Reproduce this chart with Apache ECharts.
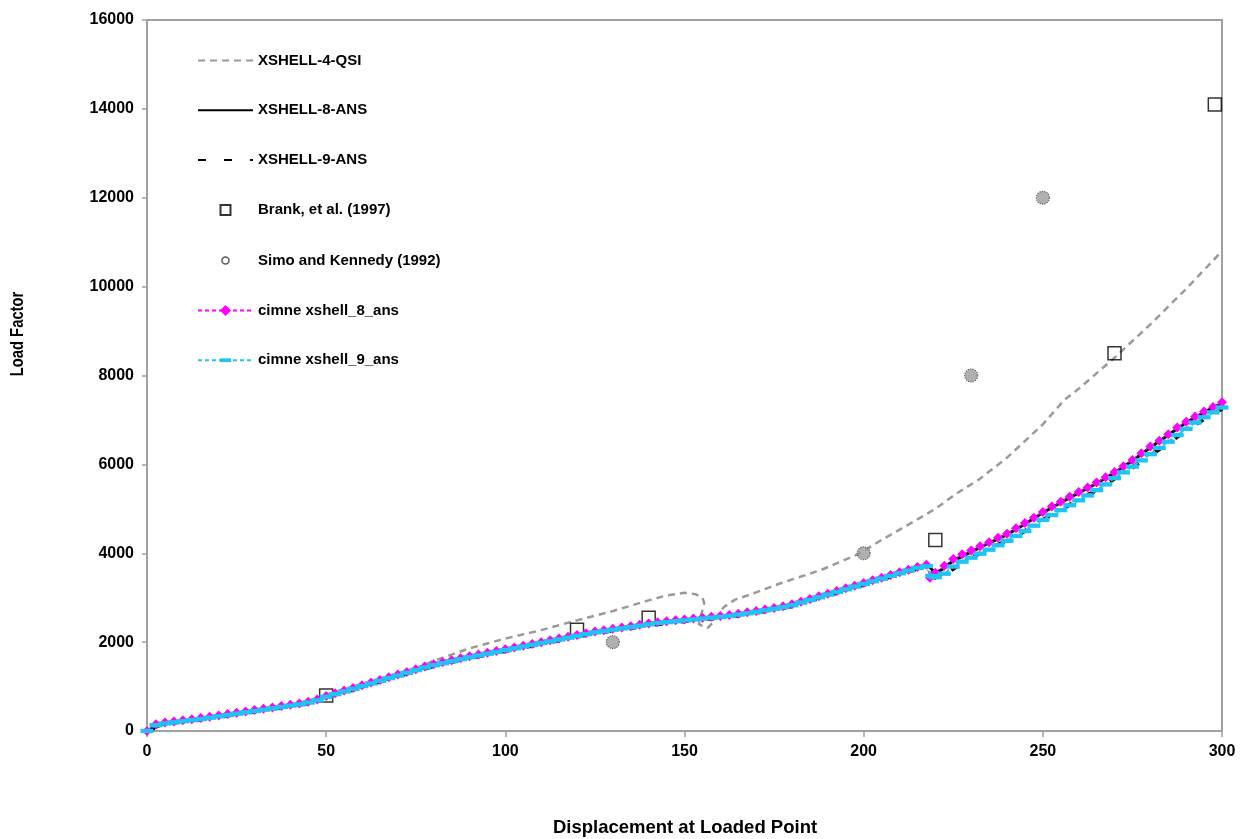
<!DOCTYPE html>
<html>
<head>
<meta charset="utf-8">
<script src="https://cdn.jsdelivr.net/npm/echarts@6/dist/echarts.min.js"></script>
<style>
html,body{margin:0;padding:0;background:#fff;}
#chart{width:1243px;height:839px;}
</style>
</head>
<body>
<div id="chart"></div>
<script>
// ---- data ----
var xTicks = [0, 50, 100, 150, 200, 250, 300];
var yTicks = [0, 2000, 4000, 6000, 8000, 10000, 12000, 14000, 16000];

var qsi4X = [0,5,10,20,30,40,50,60,70,75,80,85,90,100,110,120,130,140,145,150,153,155,155.5,154,156.5,158,161,164,170,177,188,199,205,212,220,226,232,240,250,256,260,270,280,290,300];
var qsi4Y = [0,170,230,340,460,580,770,1010,1250,1400,1580,1720,1860,2080,2270,2490,2700,2940,3050,3110,3080,3000,2880,2400,2320,2450,2790,2950,3120,3330,3620,4000,4300,4620,5000,5350,5650,6150,6900,7450,7700,8400,9150,9950,10800];

var ans8X = [0,5,10,15,20,25,30,35,40,45,50,55,60,65,70,75,80,85,90,95,100,105,110,115,120,125,130,135,140,145,150,155,160,165,170,175,180,185,190,195,200,205,210,215,218,220,222,225,230,235,240,245,250,255,260,265,270,275,280,285,290,295,300];
var ans8Y = [0,170,225,275,335,395,455,515,575,640,770,890,1010,1130,1250,1370,1480,1570,1660,1740,1820,1900,1980,2060,2140,2220,2280,2340,2400,2450,2490,2530,2570,2620,2680,2750,2830,2950,3070,3190,3310,3430,3550,3670,3720,3560,3640,3830,4030,4230,4420,4660,4910,5140,5360,5570,5810,6080,6380,6660,6940,7170,7380];

var ans9X = [0,5,10,15,20,25,30,35,40,45,50,55,60,65,70,75,80,85,90,95,100,105,110,115,120,125,130,135,140,145,150,155,160,165,170,175,180,185,190,195,200,205,210,215,218,220,222,225,230,235,240,245,250,255,260,265,270,275,280,285,290,295,300];
var ans9Y = [0,160,210,260,320,380,440,500,560,625,750,870,990,1110,1230,1350,1460,1550,1640,1720,1800,1880,1960,2040,2120,2200,2260,2320,2380,2430,2470,2510,2550,2600,2660,2730,2810,2930,3050,3170,3290,3410,3530,3650,3700,3440,3480,3650,3900,4100,4280,4500,4750,4980,5200,5420,5680,5930,6200,6480,6760,7020,7250];

var brankX = [50,120,140,220,270,298];
var brankY = [800,2280,2550,4300,8500,14100];

var simoX = [130,200,230,250];
var simoY = [2000,4000,8000,12000];

var cimne8X = [0,2.5,5,7.5,10,12.5,15,17.5,20,22.5,25,27.5,30,32.5,35,37.5,40,42.5,45,47.5,50,52.5,55,57.5,60,62.5,65,67.5,70,72.5,75,77.5,80,82.5,85,87.5,90,92.5,95,97.5,100,102.5,105,107.5,110,112.5,115,117.5,120,122.5,125,127.5,130,132.5,135,137.5,140,142.5,145,147.5,150,152.5,155,157.5,160,162.5,165,167.5,170,172.5,175,177.5,180,182.5,185,187.5,190,192.5,195,197.5,200,202.5,205,207.5,210,212.5,215,217.5,218.5,220,222.5,225,227.5,230,232.5,235,237.5,240,242.5,245,247.5,250,252.5,255,257.5,260,262.5,265,267.5,270,272.5,275,277.5,280,282.5,285,287.5,290,292.5,295,297.5,300];
var cimne8Y = [0,150,190,215,240,265,290,320,350,380,410,440,470,500,530,560,590,620,660,710,790,850,910,970,1030,1090,1150,1210,1270,1330,1390,1450,1500,1545,1590,1635,1680,1720,1760,1800,1840,1880,1920,1960,2000,2040,2080,2120,2160,2200,2240,2270,2300,2330,2360,2390,2420,2450,2470,2490,2510,2530,2550,2570,2590,2610,2640,2670,2700,2735,2770,2810,2850,2910,2970,3030,3090,3150,3210,3270,3330,3390,3450,3510,3570,3630,3690,3740,3450,3560,3720,3870,3980,4060,4160,4250,4350,4440,4560,4680,4800,4930,5050,5160,5270,5380,5480,5590,5710,5830,5960,6100,6250,6400,6530,6680,6830,6960,7080,7190,7290,7400];

var cimne9X = [0,2.5,5,7.5,10,12.5,15,17.5,20,22.5,25,27.5,30,32.5,35,37.5,40,42.5,45,47.5,50,52.5,55,57.5,60,62.5,65,67.5,70,72.5,75,77.5,80,82.5,85,87.5,90,92.5,95,97.5,100,102.5,105,107.5,110,112.5,115,117.5,120,122.5,125,127.5,130,132.5,135,137.5,140,142.5,145,147.5,150,152.5,155,157.5,160,162.5,165,167.5,170,172.5,175,177.5,180,182.5,185,187.5,190,192.5,195,197.5,200,202.5,205,207.5,210,212.5,215,217.5,219,220,222.5,225,227.5,230,232.5,235,237.5,240,242.5,245,247.5,250,252.5,255,257.5,260,262.5,265,267.5,270,272.5,275,277.5,280,282.5,285,287.5,290,292.5,295,297.5,300];
var cimne9Y = [0,130,170,195,220,245,270,300,330,360,390,420,450,480,510,540,570,600,640,690,770,830,890,950,1010,1070,1130,1190,1250,1310,1370,1430,1480,1525,1570,1615,1660,1700,1740,1780,1820,1860,1900,1940,1980,2020,2060,2100,2140,2180,2220,2250,2280,2310,2340,2370,2400,2430,2450,2470,2490,2510,2530,2550,2570,2590,2620,2650,2680,2715,2750,2790,2830,2890,2950,3010,3070,3130,3190,3250,3310,3370,3430,3490,3550,3610,3670,3710,3490,3460,3540,3700,3810,3900,3990,4080,4180,4280,4390,4500,4620,4750,4860,4970,5080,5190,5300,5420,5550,5690,5820,5950,6090,6230,6370,6510,6660,6800,6940,7060,7170,7280];

var seriesNames = ['XSHELL-4-QSI','XSHELL-8-ANS','XSHELL-9-ANS','Brank, et al. (1997)','Simo and Kennedy (1992)','cimne xshell_8_ans','cimne xshell_9_ans'];

function zip(xs, ys) { return xs.map(function (x, i) { return [x, ys[i]]; }); }

var FONT = "'Liberation Sans', Arial, Helvetica, sans-serif";
var chart = echarts.init(document.getElementById('chart'), null, {renderer: 'canvas'});

var DASH_SYMBOL = 'path://M0,0M0,12M0,4h12v4h-12z';

chart.setOption({
  animation: false,
  backgroundColor: '#ffffff',
  grid: {left: 147, right: 21, top: 20, bottom: 108, show: true, borderColor: '#a0a0a0', borderWidth: 2, containLabel: false},
  xAxis: {
    type: 'value', min: xTicks[0], max: xTicks[xTicks.length - 1], interval: 50,
    axisLine: {show: true, lineStyle: {color: '#a0a0a0', width: 2}},
    axisTick: {show: true, length: 6, lineStyle: {color: '#a0a0a0', width: 1.5}},
    axisLabel: {margin: 13, color: '#000', fontFamily: FONT, fontWeight: 'bold', fontSize: 16,
      formatter: function (v) { return String(v); }},
    splitLine: {show: false}
  },
  yAxis: {
    type: 'value', min: yTicks[0], max: yTicks[yTicks.length - 1], interval: 2000,
    axisLine: {show: true, lineStyle: {color: '#a0a0a0', width: 2}},
    axisTick: {show: true, length: 5, lineStyle: {color: '#a0a0a0', width: 1.5}},
    axisLabel: {margin: 13, color: '#000', fontFamily: FONT, fontWeight: 'bold', fontSize: 16,
      formatter: function (v) { return String(v); }},
    splitLine: {show: false}
  },
  legend: {
    orient: 'vertical', left: 192, top: 48, itemWidth: 55, itemHeight: 14, itemGap: 34.7,
    textStyle: {fontFamily: FONT, fontWeight: 'bold', fontSize: 15, color: '#000'},
    data: [
      {name: seriesNames[0], itemStyle: {opacity: 0}},
      {name: seriesNames[1], itemStyle: {opacity: 0}},
      {name: seriesNames[2], itemStyle: {opacity: 0}},
      {name: seriesNames[3], icon: 'path://M0,0M14,14M2,2h10v10h-10z'},
      {name: seriesNames[4], icon: 'path://M0,0M14,14M3.5,7a3.5,3.5 0 1,0 7,0a3.5,3.5 0 1,0 -7,0z', itemStyle: {color: '#ffffff', borderColor: '#333', borderWidth: 1.5}},
      {name: seriesNames[5]},
      {name: seriesNames[6]}
    ]
  },
  graphic: [
    {type: 'text', x: 685, y: 828, style: {text: 'Displacement at Loaded Point', fill: '#000', font: 'bold 18.5px ' + FONT, textAlign: 'center', textVerticalAlign: 'middle'}},
    {type: 'text', x: 18, y: 334, rotation: Math.PI / 2, scaleX: 0.8, style: {text: 'Load Factor', fill: '#000', font: 'bold 18.5px ' + FONT, textAlign: 'center', textVerticalAlign: 'middle'}}
  ],
  series: [
    {name: seriesNames[0], type: 'line', data: zip(qsi4X, qsi4Y), symbol: 'none', z: 2,
     lineStyle: {color: '#9a9a9a', width: 2.5, type: [7, 5]}, itemStyle: {color: '#9a9a9a'}},
    {name: seriesNames[1], type: 'line', data: zip(ans8X, ans8Y), symbol: 'none', z: 3,
     lineStyle: {color: '#000', width: 3}, itemStyle: {color: '#000'}},
    {name: seriesNames[2], type: 'line', data: zip(ans9X, ans9Y), symbol: 'none', z: 4,
     lineStyle: {color: '#000', width: 4, type: [8, 18]}, itemStyle: {color: '#000'}},
    {name: seriesNames[3], type: 'scatter', data: zip(brankX, brankY), symbol: 'rect', symbolSize: 13, z: 5,
     itemStyle: {color: 'rgba(255,255,255,0)', borderColor: '#000', borderWidth: 1.5}},
    {name: seriesNames[4], type: 'scatter', data: zip(simoX, simoY), symbol: 'circle', symbolSize: 13, z: 6,
     itemStyle: {color: '#9c9c9c', borderColor: '#404040', borderWidth: 1.2, borderType: 'dotted'}},
    {name: seriesNames[5], type: 'line', data: zip(cimne8X, cimne8Y), symbol: 'diamond', symbolSize: 10, showSymbol: true, z: 7,
     lineStyle: {color: '#ff00ff', width: 1, type: [4, 3]}, itemStyle: {color: '#ff00ff'}},
    {name: seriesNames[6], type: 'line', data: zip(cimne9X, cimne9Y), symbol: DASH_SYMBOL, symbolSize: 13, showSymbol: true, z: 8,
     lineStyle: {color: '#21c4f0', width: 2, type: [4, 3]}, itemStyle: {color: '#21c4f0'}}
  ]
});
</script>
</body>
</html>
